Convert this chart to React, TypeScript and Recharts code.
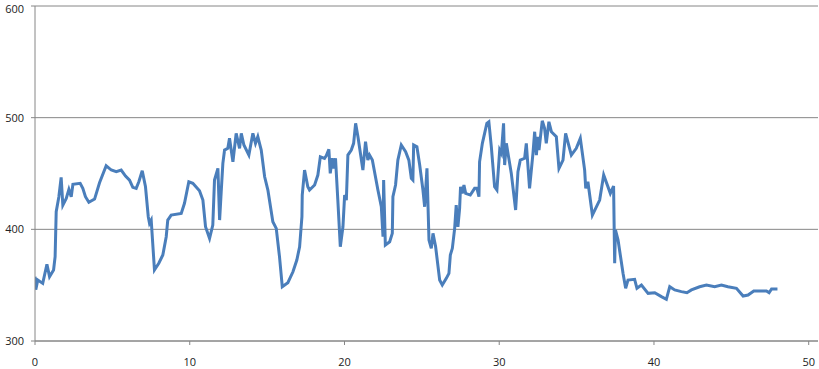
import React from 'react';
import { LineChart, Line, XAxis, YAxis, CartesianGrid } from 'recharts';

// x positions and readings
const xValues = [
  0, 0.05, 0.18, 0.5, 0.77, 0.94, 1.2, 1.3, 1.37, 1.54, 1.69, 1.8, 2.02, 2.19, 2.34, 2.45, 2.92, 3.09, 3.26,
  3.48, 3.85, 4.17, 4.6, 4.93, 5.25, 5.57, 5.85, 6.11, 6.32, 6.54, 6.71, 6.93, 7.14, 7.32, 7.4, 7.51, 7.72,
  8.0, 8.26, 8.48, 8.58, 8.8, 9.45, 9.66, 9.94, 10.2, 10.63, 10.85, 11.02, 11.28, 11.49, 11.6, 11.82, 11.93,
  12.04, 12.14, 12.25, 12.46, 12.57, 12.79, 13.0, 13.22, 13.33, 13.5, 13.82, 14.08, 14.25, 14.4, 14.62,
  14.84, 15.05, 15.37, 15.59, 15.8, 15.98, 16.34, 16.67, 16.92, 17.1, 17.25, 17.27, 17.42, 17.63, 17.74,
  18.07, 18.28, 18.44, 18.71, 18.82, 18.99, 19.08, 19.21, 19.3, 19.42, 19.57, 19.73, 19.9, 20.01, 20.12,
  20.22, 20.44, 20.59, 20.72, 20.87, 21.19, 21.36, 21.51, 21.62, 21.8, 22.16, 22.38, 22.49, 22.53, 22.64,
  22.92, 23.09, 23.13, 23.3, 23.45, 23.67, 23.95, 24.16, 24.32, 24.42, 24.47, 24.68, 24.86, 25.07, 25.18,
  25.33, 25.46, 25.61, 25.72, 25.89, 26.15, 26.32, 26.58, 26.75, 26.84, 26.97, 27.12, 27.22, 27.33, 27.44,
  27.5, 27.61, 27.72, 27.83, 28.13, 28.41, 28.56, 28.69, 28.73, 28.91, 29.2, 29.33, 29.49, 29.7, 29.85,
  30.03, 30.14, 30.28, 30.35, 30.46, 30.78, 31.06, 31.21, 31.36, 31.64, 31.75, 31.96, 32.18, 32.29, 32.4,
  32.5, 32.57, 32.78, 32.93, 33.04, 33.21, 33.37, 33.69, 33.86, 34.12, 34.29, 34.66, 34.98, 35.24, 35.52,
  35.59, 35.73, 36.02, 36.49, 36.75, 37.18, 37.39, 37.46, 37.51, 37.68, 38.0, 38.17, 38.32, 38.75, 38.9,
  39.19, 39.62, 40.05, 40.48, 40.8, 41.02, 41.34, 41.77, 42.13, 42.42, 42.95, 43.39, 43.92, 44.36, 44.78,
  45.33, 45.76, 46.08, 46.45, 47.27, 47.44, 47.6, 47.98,
];

const yValues = [
  357.6, 346, 354.6, 351.6, 368.7, 357.6, 363.6, 375.5, 415.8, 429, 446.5, 421.7, 427.7, 435.8, 429.2, 440.3,
  441.2, 436.7, 429.2, 424.2, 427.1, 441.7, 456.9, 453.1, 451.6, 453.1, 447.7, 444.1, 437.6, 436.7, 442.6,
  452.5, 438.1, 411.3, 405.4, 408.3, 363.6, 369.6, 377, 393.4, 408.3, 412.8, 414.3, 423.3, 442.6, 441.2,
  434.6, 426.2, 402.3, 391.9, 403.8, 444.1, 454.6, 408.3, 435.2, 459.1, 471, 472.5, 481.5, 460.5, 486,
  472.5, 486, 475.5, 466.5, 486, 477, 482.9, 471, 447.1, 435.2, 406.8, 400.9, 375.5, 348.6, 352.2, 362,
  372.5, 384.4, 411.3, 430.7, 453.1, 438.1, 435.2, 439.7, 448.6, 465, 463.6, 465.9, 471.6, 450.1, 463.6,
  454.6, 463.6, 426.2, 384.4, 402.3, 430.7, 426.2, 466.5, 471, 477, 494.9, 482.9, 453.1, 478.5, 462, 466.5,
  462, 435.2, 420.2, 393.4, 444.1, 385.9, 388.9, 396.4, 429.2, 439.7, 462, 475.5, 469.5, 462, 445.6, 444.1,
  475.5, 473.9, 457.6, 435.2, 420.2, 454.6, 390.4, 383, 396.4, 384.4, 354.6, 350.1, 356.1, 360.6, 377, 383,
  400.9, 421.7, 402.3, 418.8, 438.1, 432.2, 439.7, 432.2, 430.7, 436.7, 436.7, 429.2, 460.5, 477, 494.9,
  496.3, 473.9, 438.1, 435.2, 471, 468, 494.9, 457.6, 477, 450.1, 417.3, 451.6, 462, 463.6, 477, 436.7,
  468, 487.4, 466.5, 482.9, 471, 497.2, 490.4, 477, 496.3, 487.4, 482.9, 454.6, 462, 486, 466.5, 472.5,
  481.5, 453.1, 436.7, 442.6, 412.8, 426.2, 448.6, 432.2, 438.8, 369.6, 399.4, 390.4, 360.6, 347.2, 354.6,
  355.2, 347.2, 350.1, 342.7, 343.2, 339.7, 337.3, 348.6, 345.7, 344.2, 343.2, 345.7, 348.6, 350.1, 348.6,
  350.1, 348.6, 347.2, 340.3, 341.2, 344.8, 344.8, 343.2, 346.6, 346.6,
];

const xTicks = [0, 10, 20, 30, 40, 50];
const yTicks = [300, 400, 500, 600];

const data = xValues.map((x, i) => ({ x, y: yValues[i] }));

const axisColor = '#868686';
const tickStyle = { fontFamily: 'Open Sans', fontSize: 11, fill: '#222' };

// keeps the top label inside the picture, like the original does
const YTick = ({ x, y, payload }: any) => (
  <text x={x} y={Math.max(y, 8)} dy="0.355em" textAnchor="end" {...tickStyle}>
    {payload.value}
  </text>
);

export default function App() {
  return (
    <div style={{ position: 'fixed', left: 0, top: 0, width: 819, height: 369, background: '#fff' }}>
      <LineChart width={819} height={369} data={data} margin={{ top: 6, right: 1, left: 0, bottom: 0 }}>
        <CartesianGrid horizontal vertical={false} stroke={axisColor} strokeWidth={1} />
        <XAxis
          dataKey="x"
          type="number"
          domain={[0, 50.6]}
          ticks={xTicks}
          allowDataOverflow
          height={28}
          stroke={axisColor}
          tickSize={4}
          tickMargin={13}
          tick={tickStyle}
        />
        <YAxis
          type="number"
          domain={[300, 600]}
          ticks={yTicks}
          width={35}
          stroke={axisColor}
          tickSize={4}
          tickMargin={7}
          tick={<YTick />}
        />
        <Line
          type="linear"
          dataKey="y"
          stroke="#4a7ebb"
          strokeWidth={3}
          dot={false}
          isAnimationActive={false}
        />
      </LineChart>
    </div>
  );
}
